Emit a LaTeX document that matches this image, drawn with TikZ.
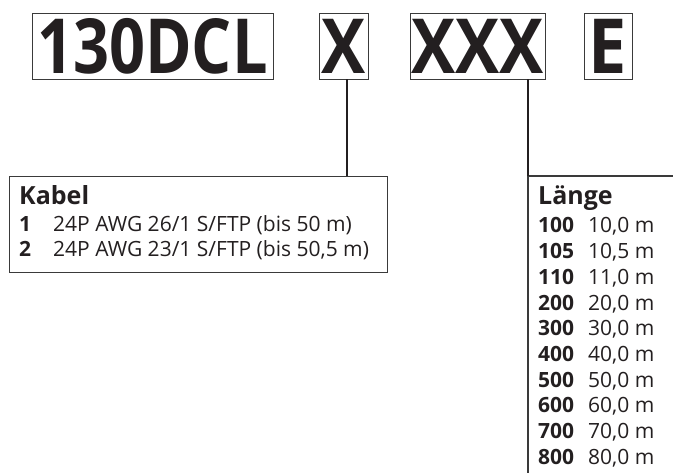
\documentclass[tikz,border=0pt]{standalone}
\usepackage{fontspec}
\setmainfont{Open Sans}
\usepackage{graphicx}
\definecolor{ink}{HTML}{231F20}
\definecolor{frame}{HTML}{3A3A3A}

\begin{document}
\begin{tikzpicture}[
x=1pt,y=-1pt,
every node/.style={inner sep=0pt,text=ink},
codebox/.style={draw=frame,line width=0.9pt,minimum height=66pt,font=\fontsize{76}{76}\selectfont\bfseries},
listbox/.style={draw=frame,line width=1.2pt},
link/.style={draw=ink,line width=2pt},
head/.style={anchor=base west,font=\fontsize{25}{25}\selectfont\bfseries},
item/.style={anchor=base west,font=\fontsize{21}{21}\selectfont},
itemkey/.style={item,font=\fontsize{21}{21}\selectfont\bfseries}
]
\useasboundingbox (0,0) rectangle (673,473);
\clip (0,0) rectangle (673,473);

% Bestellschluessel
\node[codebox,minimum width=241pt] (base) at (152.5,46) {\scalebox{0.83}[1]{130DCL}};
\node[codebox,minimum width=49pt] (kabelcode) at (343.5,46) {\scalebox{0.87}[1]{X}};
\node[codebox,minimum width=135pt] (laengecode) at (477.5,46) {\scalebox{0.87}[1]{XXX}};
\node[codebox,minimum width=48pt] (ecode) at (608,46) {\scalebox{0.9}[1]{E}};

% Kabel
\node[listbox,anchor=north west,minimum width=378pt,minimum height=96pt] (kabel) at (8.5,176) {};
\node[head] (kabelhead) at (19,205) {Kabel};
\node[itemkey] (k1) at (19,232) {1};
\node[item] (k1text) at (53,232) {24P AWG 26/1 S/FTP (bis 50 m)};
\node[itemkey] (k2) at (19,257) {2};
\node[item] (k2text) at (53,257) {24P AWG 23/1 S/FTP (bis 50,5 m)};

% Laenge
\coordinate (laengetop) at (528,176);
\coordinate (laengeend) at (680,176);
\coordinate (laengefoot) at (528,480);
\draw[listbox] (laengeend) -- (laengetop) -- (laengefoot);
\node[head] (laengehead) at (538,205) {Länge};
\foreach \code/\len [count=\i from 0] in {100/{10,0 m},105/{10,5 m},110/{11,0 m},200/{20,0 m},300/{30,0 m},400/{40,0 m},500/{50,0 m},600/{60,0 m},700/{70,0 m},800/{80,0 m}}
{
\node[itemkey] (lcode\i) at (538,233+25.7*\i) {\code};
\node[item] (llen\i) at (588,233+25.7*\i) {\len};
}

% Verbindungen
\draw[link] ([xshift=3.2pt]kabelcode.south) -- ([xshift=3.2pt]kabelcode.south |- kabel.north);
\draw[link] ([xshift=50.5pt]laengecode.south) -- (laengetop);
\end{tikzpicture}
\end{document}
